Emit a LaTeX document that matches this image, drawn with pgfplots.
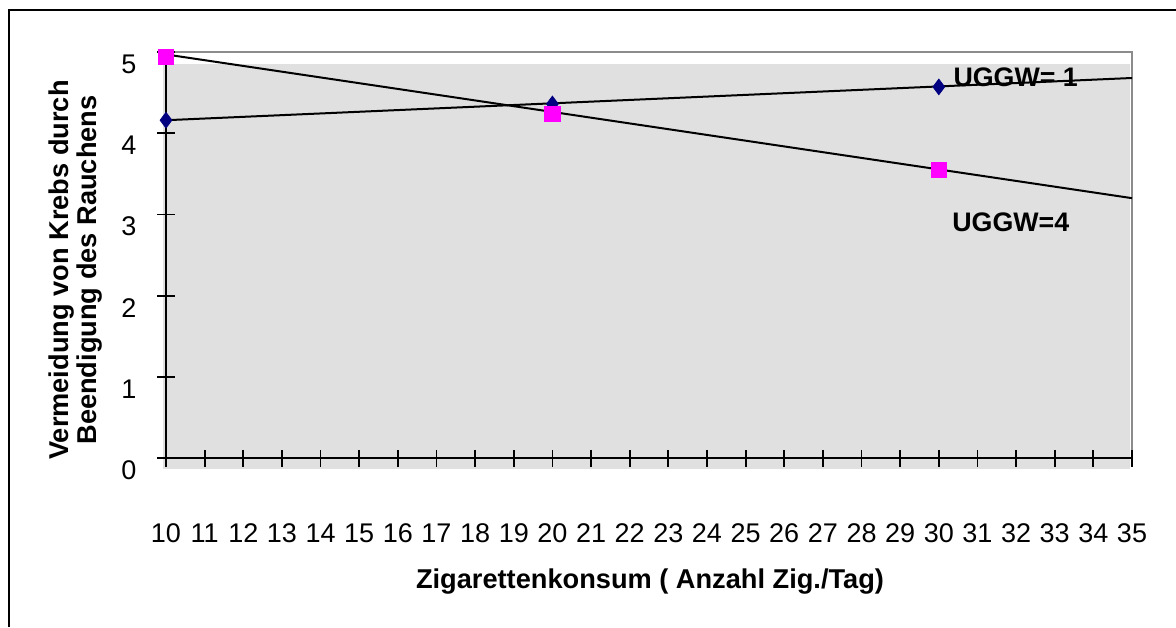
\documentclass[border=0pt]{standalone}
\usepackage{fontspec}
\setmainfont{Liberation Sans}
\usepackage{pgfplots}
\pgfplotsset{compat=1.18}
\definecolor{plotbg}{HTML}{E0E0E0}
\definecolor{navyblue}{HTML}{000080}
\definecolor{magentaX}{HTML}{FF00FF}
\definecolor{frameGray}{HTML}{8C8C8C}
\begin{document}
\begin{tikzpicture}
\path[use as bounding box] (0,0) rectangle (588pt,313.5pt);
\draw[line width=1pt] (4.5pt,0) -- (4.5pt,308.5pt) -- (588pt,308.5pt);
\begin{axis}[
  at={(83pt,84.5pt)}, anchor=south west,
  scale only axis, width=483pt, height=203pt,
  xmin=10, xmax=35, ymin=0, ymax=5,
  axis x line*=bottom, axis y line*=left,
  axis line style={line width=0.9pt, black},
  xtick={10,...,35}, ytick={0,...,5},
  tick align=center, major tick length=8.5pt,
  tick style={line width=0.9pt, black},
  /pgf/number format/assume math mode=true,
  ticklabel style={font=\fontsize{13.5}{15}\selectfont},
  xticklabel style={yshift=-25pt},
  yticklabel style={xshift=-7pt, yshift=-6pt},
  axis on top, clip=false,
]
\fill[plotbg] (axis cs:9.92,-0.135) rectangle (axis cs:34.95,4.85);
\draw[frameGray, line width=0.8pt] (axis cs:10,5) -- (axis cs:35,5) -- (axis cs:35,0);
\node[anchor=west, inner sep=0pt, font=\bfseries\fontsize{13.4}{15}\selectfont] at (axis cs:30.37,4.69) {UGGW= 1};
\node[anchor=west, inner sep=0pt, font=\bfseries\fontsize{13.4}{15}\selectfont] at (axis cs:30.34,2.905) {UGGW=4};
% trendlines
\addplot[black, line width=1pt, no marks] coordinates {(10,4.16) (35,4.68)};
\addplot[black, line width=1pt, no marks] coordinates {(10,4.97) (35,3.20)};
% data
\addplot[only marks, mark=diamond*, mark size=3.9pt, mark options={fill=navyblue, draw=navyblue}] coordinates {(10,4.16) (20,4.36) (30,4.57)};
\addplot[only marks, mark=square*, mark size=3.8pt, mark options={fill=magentaX, draw=magentaX}] coordinates {(10,4.94) (20,4.24) (30,3.545)};
\end{axis}
\node[rotate=90, align=center, font=\bfseries\fontsize{13.6}{14}\selectfont] at (38pt,178.5pt) {Vermeidung von Krebs durch\\Beendigung des Rauchens};
\node[font=\bfseries\fontsize{13.6}{15}\selectfont] at (325pt,22.5pt) {Zigarettenkonsum ( Anzahl Zig./Tag)};
\end{tikzpicture}
\end{document}
